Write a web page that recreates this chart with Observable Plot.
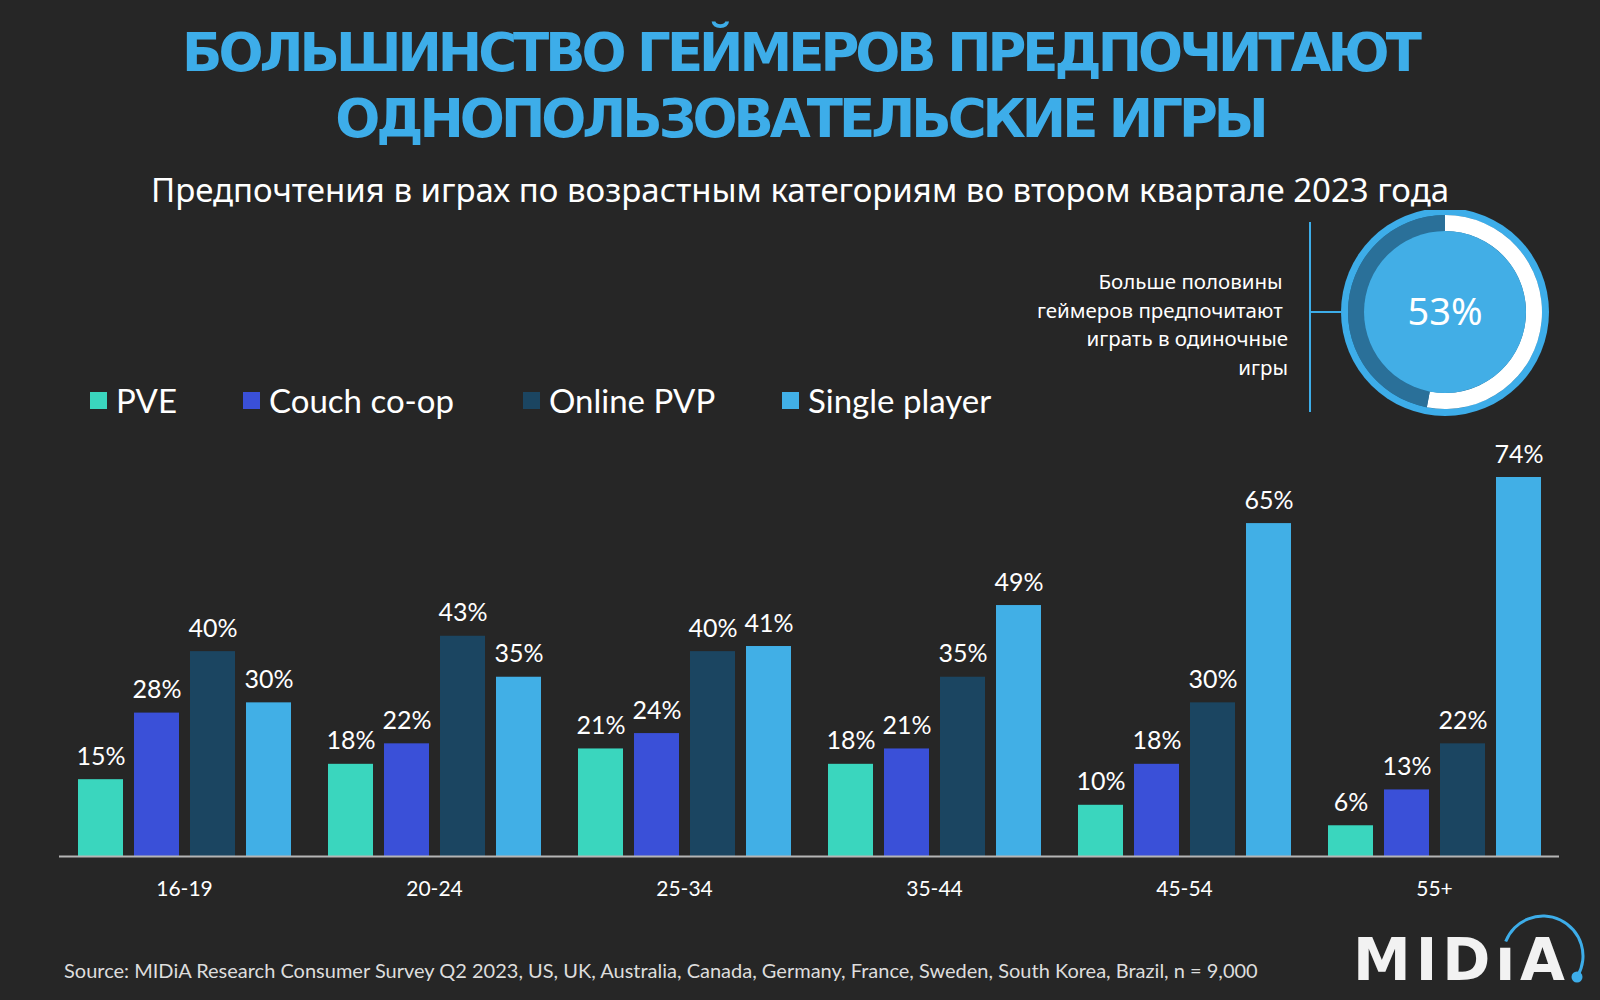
<!DOCTYPE html>
<html>
<head>
<meta charset="utf-8">
<script src="https://cdn.jsdelivr.net/npm/d3@7"></script>
<script src="https://cdn.jsdelivr.net/npm/@observablehq/plot@0.6"></script>
<style>
  html, body { margin: 0; padding: 0; background: #262626; }
  #page { position: relative; width: 1600px; height: 1000px; background: #262626; overflow: hidden; font-family: Lato, "Noto Sans", sans-serif; color: #fff; }
  .title { position: absolute; left: 0; width: 1600px; text-align: center; color: #3DADE9; font-family: "DejaVu Sans", sans-serif; font-weight: 700; font-size: 53px; line-height: 66px; top: 20px; letter-spacing: -4px; }
  .subtitle { position: absolute; left: 0; width: 1600px; text-align: center; top: 167px; font-family: "Noto Sans", sans-serif; font-size: 33px; color: #fff; }
  .note { position: absolute; right: 312px; top: 267px; text-align: right; font-family: "Noto Sans", sans-serif; font-size: 20.5px; line-height: 28.5px; color: #fff; }
  .legend { position: absolute; top: 380px; left: 0; height: 44px; }
  .legend .item { position: absolute; display: flex; align-items: center; font-size: 33px; color: #fff; white-space: nowrap; }
  .legend .sw { width: 17px; height: 17px; margin-right: 9px; }
  .source { position: absolute; left: 64px; top: 958px; font-size: 20px; color: #ddd; }
  #chart { position: absolute; left: 0; top: 430px; }
  #donut { position: absolute; left: 1300px; top: 210px; }
  #logo { position: absolute; left: 1340px; top: 900px; }
</style>
</head>
<body>
<div id="page">
  <div class="title">БОЛЬШИНСТВО ГЕЙМЕРОВ ПРЕДПОЧИТАЮТ<br>ОДНОПОЛЬЗОВАТЕЛЬСКИЕ ИГРЫ</div>
  <div class="subtitle">Предпочтения в играх по возрастным категориям во втором квартале 2023 года</div>
  <div class="note">Больше половины&nbsp;<br>геймеров предпочитают&nbsp;<br>играть в одиночные<br>игры</div>
  <div class="legend" id="legend"></div>
  <div id="donut"></div>
  <div id="chart"></div>
  <div class="source">Source: MIDiA Research Consumer Survey Q2 2023, US, UK, Australia, Canada, Germany, France, Sweden, South Korea, Brazil, n = 9,000</div>
  <div id="logo"></div>
</div>
<script>
// ---- data ----
const ageGroups = ["16-19", "20-24", "25-34", "35-44", "45-54", "55+"];
const seriesNames = ["PVE", "Couch co-op", "Online PVP", "Single player"];
const seriesColors = ["#3AD6BE", "#3A50D8", "#1B4561", "#41AFE6"];
const pve = [15, 18, 21, 18, 10, 6];
const couchCoop = [28, 22, 24, 21, 18, 13];
const onlinePvp = [40, 43, 40, 35, 30, 22];
const singlePlayer = [30, 35, 41, 49, 65, 74];
const singlePlayerShare = 53;

const seriesValues = [pve, couchCoop, onlinePvp, singlePlayer];
const rows = [];
ageGroups.forEach((g, i) => {
  seriesNames.forEach((s, j) => rows.push({group: g, series: s, value: seriesValues[j][i]}));
});

// ---- legend ----
const legendX = [90, 243, 523, 782];
const legend = document.getElementById("legend");
seriesNames.forEach((s, j) => {
  const it = document.createElement("div");
  it.className = "item";
  it.style.left = legendX[j] + "px";
  it.innerHTML = `<span class="sw" style="background:${seriesColors[j]}"></span><span>${s}</span>`;
  legend.appendChild(it);
});

// ---- chart ----
const chart = Plot.plot({
  width: 1600,
  height: 480,
  marginLeft: 59,
  marginRight: 41,
  marginTop: 47,
  marginBottom: 54,
  style: {background: "transparent", color: "#fff", fontFamily: "Lato, 'Noto Sans', sans-serif"},
  fx: {domain: ageGroups, paddingInner: 0, paddingOuter: 0, label: null},
  x: {domain: seriesNames, paddingInner: 0.2, paddingOuter: 0.31, axis: null},
  y: {domain: [0, 74], axis: null},
  color: {domain: seriesNames, range: seriesColors},
  marks: [
    Plot.barY(rows, {fx: "group", x: "series", y: "value", fill: "series"}),
    Plot.text(rows, {fx: "group", x: "series", y: "value", text: d => d.value + "%", fill: "#fff", fontSize: 25, lineAnchor: "bottom", dy: -15}),
    Plot.ruleY([0], {stroke: "#b5b5b5", strokeWidth: 2}),
    Plot.axisFx({anchor: "bottom", tickSize: 0, tickPadding: 25, fontSize: 21, fill: "#fff", label: null})
  ]
});
document.getElementById("chart").appendChild(chart);

// ---- donut ----
(function () {
  const size = 230, cx = 145, cy = 102;
  const svg = d3.select("#donut").append("svg").attr("width", 300).attr("height", size);
  const g = svg.append("g").attr("transform", `translate(${cx},${cy})`);
  g.append("circle").attr("r", 104).attr("fill", "#3DADE9");
  g.append("circle").attr("r", 97).attr("fill", "#236A93");
  const pie = d3.pie().sort(null)([singlePlayerShare, 100 - singlePlayerShare]);
  const arc = d3.arc().innerRadius(81).outerRadius(97);
  g.selectAll("path").data(pie).join("path").attr("d", arc).attr("fill", (d, i) => i === 0 ? "#ffffff" : "#2A7099");
  g.append("circle").attr("r", 81).attr("fill", "#42AEE6");
  g.append("text").attr("text-anchor", "middle").attr("dy", "0.35em").attr("fill", "#fff")
    .attr("font-family", "'Noto Sans', sans-serif").attr("font-size", 38).text(singlePlayerShare + "%");
  svg.append("line").attr("x1", 10).attr("x2", 10).attr("y1", 12).attr("y2", 202).attr("stroke", "#3DADE9").attr("stroke-width", 2);
  svg.append("line").attr("x1", 10).attr("x2", 41).attr("y1", cy).attr("y2", cy).attr("stroke", "#3DADE9").attr("stroke-width", 2);
})();

// ---- logo ----
(function () {
  const svg = d3.select("#logo").append("svg").attr("width", 260).attr("height", 100);
  svg.append("text").attr("x", 13).attr("y", 80).attr("fill", "#f2f2f2")
    .attr("font-family", "'DejaVu Sans', sans-serif").attr("font-weight", 700).attr("font-size", 58)
    .attr("textLength", 212).attr("lengthAdjust", "spacing").text("MIDıA");
  const a = d3.arc().innerRadius(38.5).outerRadius(41.5).startAngle(-1.2).endAngle(2.1);
  svg.append("path").attr("d", a()).attr("transform", "translate(203,56)").attr("fill", "#3DADE9");
  svg.append("circle").attr("cx", 237).attr("cy", 77).attr("r", 5.5).attr("fill", "#3DADE9");
})();
</script>
</body>
</html>
